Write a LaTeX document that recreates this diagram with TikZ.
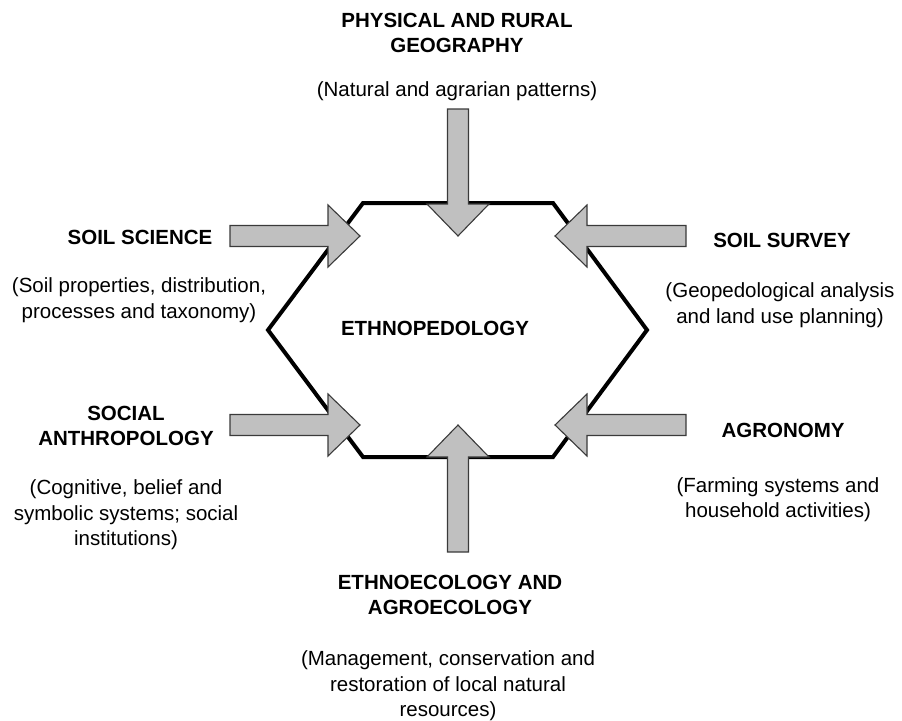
\documentclass[tikz,border=0pt]{standalone}
\usepackage{fontspec}
\setmainfont{Liberation Sans}
\definecolor{arrowgray}{HTML}{C0C0C0}
\definecolor{arrowedge}{HTML}{3A3A3A}
\tikzset{
  pics/fatarrow/.style={code={
    \draw[fatarrowstyle] (0,0) -- (-32,-31) -- (-32,-10.5) -- (-#1,-10.5)
      -- (-#1,10.5) -- (-32,10.5) -- (-32,31) -- cycle;
  }}
}
\begin{document}
\begin{tikzpicture}[x=1pt,y=-1pt,
  title/.style={font=\fontsize{20.5}{25}\selectfont\bfseries, align=center, inner sep=0pt},
  desc/.style={font=\fontsize{20.5}{25.5}\selectfont, align=center, inner sep=0pt},
  hexline/.style={line width=4pt, line join=miter, draw=black},
  fatarrowstyle/.style={fill=arrowgray, draw=arrowedge, line width=1.1pt, line join=miter}]
\useasboundingbox (0,0) rectangle (902,720);
% hexagon
\coordinate (h1) at (363,203);
\coordinate (h2) at (553,203);
\coordinate (h3) at (647,330);
\coordinate (h4) at (553,457);
\coordinate (h5) at (363,457);
\coordinate (h6) at (268,330);
\draw[hexline] (h1) -- (h2) -- (h3) -- (h4) -- (h5) -- (h6) -- cycle;
% arrows
\pic[rotate=-90] at (458,236) {fatarrow=127};
\pic[rotate=90] at (458,425) {fatarrow=127};
\pic at (360,236) {fatarrow=130};
\pic at (360,425) {fatarrow=130};
\pic[rotate=180] at (555,236) {fatarrow=131};
\pic[rotate=180] at (555,425) {fatarrow=131};
% texts
\node[title] (geo) at (457,32.5) {PHYSICAL AND RURAL\\GEOGRAPHY};
\node[desc] (geod) at (457,91) {(Natural and agrarian patterns)};
\node[title] (ss) at (140,237) {SOIL SCIENCE};
\node[desc] (ssd) at (139,300) {(Soil properties, distribution,\\processes and taxonomy)};
\node[title] (sv) at (782,240) {SOIL SURVEY};
\node[desc] (svd) at (780,305) {(Geopedological analysis\\and land use planning)};
\node[title] (ep) at (435,328) {ETHNOPEDOLOGY};
\node[title] (sa) at (126,426) {SOCIAL\\ANTHROPOLOGY};
\node[desc] (sad) at (126,515) {(Cognitive, belief and\\symbolic systems; social\\institutions)};
\node[title] (ag) at (783,430) {AGRONOMY};
\node[desc] (agd) at (778,499.5) {(Farming systems and\\household activities)};
\node[title] (ee) at (450,594.5) {ETHNOECOLOGY AND\\AGROECOLOGY};
\node[desc] (eed) at (448,686) {(Management, conservation and\\restoration of local natural\\resources)};
\end{tikzpicture}
\end{document}
